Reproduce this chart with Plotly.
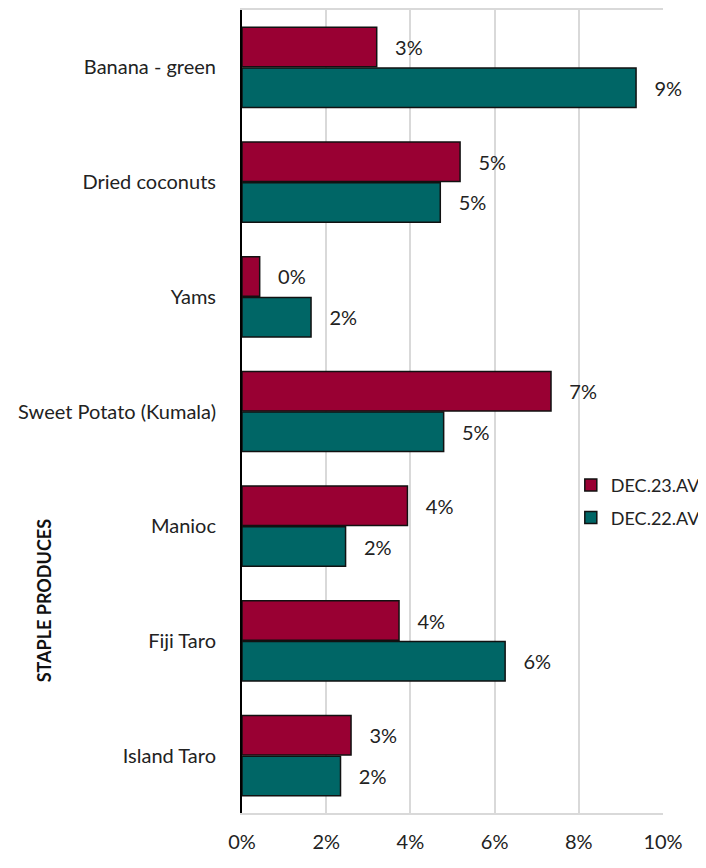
import plotly.graph_objects as go

categories = ["Banana - green", "Dried coconuts", "Yams", "Sweet Potato (Kumala)",
              "Manioc", "Fiji Taro", "Island Taro"]
dec23 = [3.2, 5.18, 0.42, 7.34, 3.93, 3.73, 2.59]
dec22 = [9.36, 4.71, 1.64, 4.79, 2.46, 6.25, 2.34]
x_ticks = [0, 2, 4, 6, 8, 10]
x_tick_labels = ["0%", "2%", "4%", "6%", "8%", "10%"]

FONT = "Lato"
FS = 20
pad = "\u00a0\u00a0\u00a0"

fig = go.Figure()
fig.add_trace(go.Bar(
    y=categories, x=dec23, orientation="h", name="DEC.23.AV", legendgroup="a",
    marker=dict(color="#990033", line=dict(color="#111111", width=1.5)),
    text=[pad + f"{v:.0f}%" for v in dec23], textposition="outside",
    textfont=dict(family=FONT, size=FS, color="#222222"), cliponaxis=False,
))
fig.add_trace(go.Bar(
    y=categories, x=dec22, orientation="h", name="DEC.22.AV", legendgroup="b",
    marker=dict(color="#006666", line=dict(color="#111111", width=1.5)),
    text=[pad + f"{v:.0f}%" for v in dec22], textposition="outside",
    textfont=dict(family=FONT, size=FS, color="#222222"), cliponaxis=False,
))

fig.update_layout(
    width=698, height=860,
    margin=dict(l=234, r=43, t=2, b=55, autoexpand=False),
    paper_bgcolor="white", plot_bgcolor="white",
    barmode="group", bargap=0.29, bargroupgap=0.03,
    font=dict(family=FONT, size=FS, color="#222222"),
    legend=dict(x=0.781, y=0.431, xanchor="left", yanchor="top",
                font=dict(family=FONT, size=18, color="#222222"),
                bgcolor="rgba(0,0,0,0)", tracegroupgap=6, traceorder="grouped",
                itemwidth=30),
    xaxis=dict(range=[0, 10], tickvals=x_ticks, ticktext=x_tick_labels,
               showgrid=True, gridcolor="#d9d9d9", gridwidth=1.5,
               showline=True, linecolor="#d9d9d9", linewidth=1.5, mirror=True,
               zeroline=False, ticks="", ticklen=0, automargin=False,
               ticklabelstandoff=10,
               tickfont=dict(family=FONT, size=FS, color="#222222")),
    yaxis=dict(autorange="reversed", showline=True, linecolor="#000000", linewidth=2,
               ticks="", ticklabelstandoff=20, showgrid=False, automargin=False,
               tickfont=dict(family=FONT, size=FS, color="#222222")),
    showlegend=True,
)
fig.add_annotation(text="<b>STAPLE PRODUCES</b>", textangle=-90,
                   xref="paper", yref="paper", x=-0.47, y=0.265,
                   xanchor="center", yanchor="middle", showarrow=False,
                   font=dict(family=FONT, size=18, color="#111111"))

fig.write_html("out.html")
